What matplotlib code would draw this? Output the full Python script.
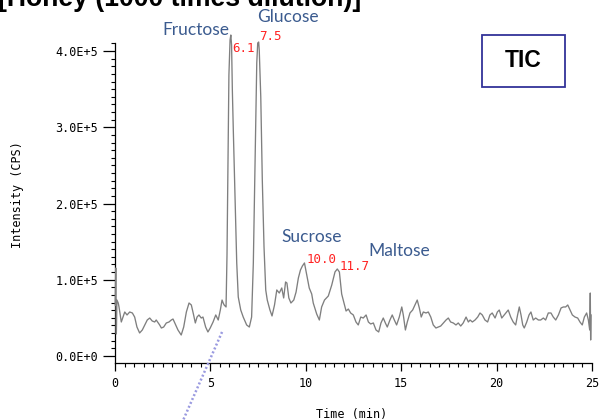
import matplotlib
matplotlib.use("Agg")
import matplotlib.pyplot as plt
from matplotlib.patches import Rectangle
from matplotlib.ticker import MultipleLocator, FuncFormatter

# retention time (min) and TIC intensity (x1000 CPS)
time_min = [0.01, 0.04, 0.07, 0.10, 0.17, 0.21, 0.33, 0.51, 0.63, 0.77, 0.91, 1.03, 1.15, 1.29,
            1.43, 1.56, 1.69, 1.82, 1.95, 2.08, 2.16, 2.34, 2.43, 2.55, 2.69, 2.83, 2.95, 3.04,
            3.18, 3.30, 3.47, 3.60, 3.74, 3.88, 4.00, 4.12, 4.21, 4.30, 4.40, 4.52, 4.61, 4.75,
            4.87, 4.99, 5.14, 5.28, 5.41, 5.52, 5.61, 5.67, 5.72,
            5.82, 5.87, 5.92, 5.97, 6.03, 6.07, 6.11, 6.15, 6.20, 6.29, 6.38, 6.46, 6.59, 6.72,
            6.90, 7.04, 7.16, 7.25, 7.34, 7.43, 7.48, 7.53, 7.56, 7.64, 7.72, 7.81, 7.90, 7.98,
            8.12, 8.23, 8.36, 8.48, 8.61, 8.74, 8.84, 8.94, 9.01, 9.11, 9.22, 9.37, 9.49, 9.61,
            9.72, 9.82, 9.93, 10.05, 10.18, 10.31, 10.39, 10.57, 10.71, 10.83, 10.98, 11.18,
            11.36, 11.53, 11.65, 11.76, 11.88,
            12.00, 12.11, 12.23, 12.35, 12.49, 12.63, 12.75, 12.88, 13.01, 13.16, 13.28, 13.40,
            13.54, 13.68, 13.82, 13.94, 14.06, 14.17, 14.27, 14.41, 14.53, 14.64, 14.76, 14.90,
            15.03, 15.11, 15.22, 15.32, 15.46, 15.60, 15.72, 15.84, 15.95, 16.05, 16.16, 16.30,
            16.42, 16.55, 16.68, 16.82, 16.94, 17.07, 17.21, 17.35, 17.47, 17.59, 17.73, 17.87,
            17.99, 18.12, 18.25, 18.40, 18.52, 18.61, 18.73, 18.87, 19.01, 19.13, 19.25, 19.39,
            19.53, 19.65, 19.77, 19.92, 20.04, 20.14, 20.27, 20.40, 20.53, 20.61, 20.74, 20.87,
            21.00, 21.10, 21.19, 21.28, 21.37, 21.45, 21.58, 21.70, 21.80, 21.92, 22.05, 22.19,
            22.31, 22.45, 22.57, 22.71, 22.85, 22.97, 23.10, 23.24, 23.38, 23.50, 23.62, 23.73,
            23.85, 23.97, 24.11, 24.25, 24.37, 24.49, 24.60, 24.72, 24.81, 24.88, 24.91, 24.93,
            24.95]
intensity_k = [66.9, 115.4, 28.9, 73.4, 69.5, 64.3, 44.6, 57.7, 53.8, 57.7, 56.4, 51.1, 38.0, 30.2,
               34.1, 40.7, 47.2, 49.8, 45.9, 44.6, 47.2, 40.7, 36.7, 38.0, 43.3, 44.6, 47.2, 48.5,
               40.7, 34.1, 27.5, 38.0, 57.7, 69.5, 66.9, 53.8, 43.3, 51.1, 53.8, 49.8, 51.1, 38.0,
               31.5, 36.7, 44.6, 53.8, 47.2, 60.3, 73.4, 69.5, 66.9,
               64.3, 132.5, 257.1, 368.5, 414.4, 421.0, 407.9, 348.9, 296.4, 208.5, 122.0, 77.4, 60.3, 51.1,
               40.7, 38.0, 51.1, 122.0, 253.1, 384.3, 410.5, 411.8, 401.3, 339.7, 230.8, 143.0, 86.6, 73.4,
               60.3, 52.5, 66.9, 86.6, 82.6, 89.2, 76.1, 97.1, 95.7, 76.1, 69.5, 73.4, 83.9, 102.3,
               112.8, 118.0, 122.0, 106.2, 89.2, 81.3, 69.5, 55.1, 47.2, 64.3, 73.4, 78.7,
               93.1, 110.2, 114.1, 110.2, 81.3,
               69.5, 59.0, 61.6, 56.4, 53.8, 44.6, 40.7, 51.1, 49.8, 53.8, 44.6, 42.0,
               43.3, 34.1, 31.5, 43.3, 49.8, 43.3, 38.0, 47.2, 53.8, 47.2, 40.7, 51.1,
               64.3, 53.8, 34.1, 44.6, 56.4, 60.3, 66.9, 73.4, 63.0, 51.1, 57.7, 56.4,
               57.7, 51.1, 40.7, 36.7, 38.0, 39.3, 43.3, 47.2, 49.8, 44.6, 43.3, 40.7,
               43.3, 39.3, 43.3, 51.1, 44.6, 47.2, 44.6, 47.2, 51.1, 56.4, 53.8, 47.2,
               44.6, 53.8, 56.4, 49.8, 57.7, 60.3, 49.8, 53.8, 57.7, 60.3, 51.1, 44.6,
               40.7, 53.8, 64.3, 53.8, 40.7, 36.7, 44.6, 53.8, 57.7, 47.2, 49.8, 47.2,
               47.2, 49.8, 47.2, 56.4, 56.4, 51.1, 47.2, 53.8, 63.0, 64.3, 64.3, 66.9,
               60.3, 53.8, 51.1, 49.8, 44.6, 40.7, 51.1, 56.4, 47.2, 34.1, 82.6, 21.0,
               53.8]
intensity = [v * 1000 for v in intensity_k]

compounds = ["Fructose", "Glucose", "Sucrose", "Maltose"]
peak_times = [6.1, 7.5, 10.0, 11.7]

fig = plt.figure(figsize=(5.99, 4.20), dpi=100)
ax = fig.add_axes([0.1920, 0.1357, 0.7963, 0.7619])

ax.plot(time_min, intensity, color="#7f7f7f", lw=0.95, clip_on=False, zorder=3)

ax.set_xlim(0, 25)
ax.set_ylim(-9200, 410500)
ax.spines["top"].set_visible(False)
ax.spines["right"].set_visible(False)
for s in ["left", "bottom"]:
    ax.spines[s].set_linewidth(0.9)

ax.xaxis.set_major_locator(MultipleLocator(5))
ax.xaxis.set_minor_locator(MultipleLocator(0.5))
ax.yaxis.set_major_locator(MultipleLocator(100000))
ax.yaxis.set_minor_locator(MultipleLocator(10000))
ax.yaxis.set_major_formatter(FuncFormatter(lambda v, p: "%.1fE+%d" % (v / 1e5, 5) if v != 0 else "0.0E+0"))
ax.tick_params(axis="y", which="major", direction="out", length=9, width=0.9, pad=3)
ax.tick_params(axis="y", which="minor", direction="out", length=3, width=0.8)
ax.tick_params(axis="x", which="major", direction="out", length=6, width=0.9, pad=4)
ax.tick_params(axis="x", which="minor", direction="out", length=3, width=0.8)
for lab in ax.get_xticklabels() + ax.get_yticklabels():
    lab.set_fontfamily("DejaVu Sans Mono")
    lab.set_fontsize(8.5)

ax.set_xlabel("Time (min)", family="DejaVu Sans Mono", fontsize=8.5, va="center")
ax.xaxis.set_label_coords(0.497, -0.16)
ax.set_ylabel("Intensity (CPS)", family="DejaVu Sans Mono", fontsize=8.5, va="center")
ax.yaxis.set_label_coords(-0.205, 0.525)

# compound names and retention times
name_pos = [(4.25, 427500), (9.07, 444600), (10.32, 156100), (14.88, 137700)]
rt_pos = [(6.71, 403900), (8.15, 418400), (10.82, 127200), (12.55, 118000)]
for name, (x, y) in zip(compounds, name_pos):
    ax.text(x, y, name, family="Lato", fontsize=12.5, color="#3b5b8f",
            ha="center", va="center", clip_on=False)
for rt, (x, y) in zip(peak_times, rt_pos):
    ax.text(x, y, "%.1f" % rt, family="DejaVu Sans Mono", fontsize=9, color="#ff2222",
            ha="center", va="center", clip_on=False)

# dotted pointer line
pointer_t = [5.61, 3.46]
pointer_i = [31500, -90500]
ax.plot(pointer_t, pointer_i, color="#9a9ae0", lw=1.8, linestyle=(0, (0.8, 0.9)),
        clip_on=False, zorder=4)

# TIC box
fig.patches.append(Rectangle((0.8047, 0.7929), 0.1386, 0.1238, transform=fig.transFigure,
                             fill=False, edgecolor="#333399", lw=1.3))
fig.text(0.874, 0.8548, "TIC", family="Liberation Sans", weight="bold", fontsize=16.5,
         ha="center", va="center")

fig.text(-0.003, (420 - 5.5) / 420, "[Honey (1000 times dilution)]", family="Liberation Sans",
         weight="bold", fontsize=19.2, ha="left", va="baseline")

fig.savefig("out.png", dpi=100)
